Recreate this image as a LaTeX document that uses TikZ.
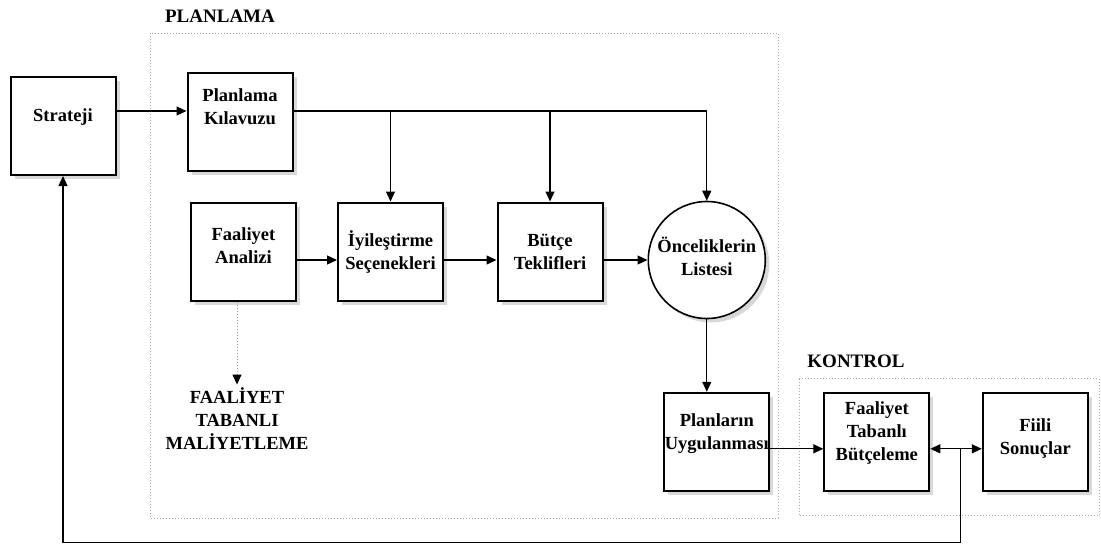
\documentclass[tikz,border=0pt]{standalone}
\usepackage{fontspec}
\setmainfont{Liberation Serif}
\usepackage{tikz}
\usetikzlibrary{positioning,calc,arrows.meta,shadows}

\begin{document}
\begin{tikzpicture}[
    x=1pt, y=1pt,
    font=\bfseries\fontsize{18.5}{23}\selectfont,
    box/.style={rectangle, draw=black, line width=2pt, fill=white, minimum width=105pt, minimum height=98pt, inner sep=0pt, align=center, drop shadow={shadow xshift=4pt, shadow yshift=-4pt, fill=gray!60, opacity=0.5}},
    listnode/.style={circle, draw=black, line width=1.6pt, fill=white, minimum size=117pt, inner sep=0pt, align=center, drop shadow={shadow xshift=4pt, shadow yshift=-4pt, fill=gray!60, opacity=0.5}},
    frame/.style={draw=gray!70, dotted, line width=1pt},
    title/.style={font=\bfseries\fontsize{19}{23}\selectfont},
    arrow/.style={-{Triangle[length=10pt, width=9pt]}, line width=1.2pt},
    dblarrow/.style={{Triangle[length=10pt, width=9pt]}-{Triangle[length=10pt, width=9pt]}, line width=1.2pt},
    dasharrow/.style={-{Triangle[length=10pt, width=9pt, color=black]}, line width=1pt, dotted, draw=gray!80}
]
\useasboundingbox (0,0) rectangle (1101,-547);

% Titles and frames
\node[title] (planlamaT) at (220,-16) {PLANLAMA};
\node[title] (kontrolT) at (856,-361) {KONTROL};
\draw[frame] (150,-33) rectangle (778,-518);
\draw[frame] (799,-378.5) rectangle (1099,-515.5);

% Planning boxes
\node[box, text depth=22pt] (strateji) at (63,-126) {Strateji};
\node[box, right=70pt of strateji, yshift=4pt, text depth=31pt] (kilavuz) {Planlama\\Kılavuzu};
\node[box, below=29.5pt of kilavuz, xshift=3.5pt, text depth=12pt] (analiz) {Faaliyet\\Analizi};
\node[box, right=40pt of analiz] (iyilestirme) {İyileştirme\\Seçenekleri};
\node[box, right=52.5pt of iyilestirme] (butce) {Bütçe\\Teklifleri};
\node[listnode, right=44pt of butce, yshift=-8.5pt, text depth=8pt] (oncelik) {Önceliklerin\\Listesi};
\node[box, below=72.5pt of oncelik, xshift=10pt, text depth=20pt] (uygulama) {Planların\\Uygulanması};
\node[align=center] (maliyet) at (237,-419) {FAALİYET\\TABANLI\\MALİYETLEME};

% Control boxes
\node[box, right=53pt of uygulama, text depth=22pt] (butceleme) {Faaliyet\\Tabanlı\\Bütçeleme};
\node[box, right=51.5pt of butceleme, text depth=10pt] (sonuc) {Fiili\\Sonuçlar};

% Guide line
\coordinate (kil) at ([yshift=11pt]kilavuz.east);
\draw[arrow] (strateji.east |- kil) -- (kilavuz.west |- kil);
\draw[arrow] (kil) -| (oncelik.north);
\draw[arrow] (kil -| iyilestirme.north) -- (iyilestirme.north);
\draw[arrow] (kil -| butce.north) -- (butce.north);

% Main flow
\draw[arrow] (analiz.east |- oncelik) -- (iyilestirme.west |- oncelik);
\draw[arrow] (iyilestirme.east |- oncelik) -- (butce.west |- oncelik);
\draw[arrow] (butce.east |- oncelik) -- (oncelik.west);
\draw[arrow] (oncelik.south) -- (oncelik.south |- uygulama.north);
\draw[dasharrow] (maliyet.north |- analiz.south) -- (maliyet.north);
\draw[arrow] ([yshift=-7pt]uygulama.east) -- ([yshift=-7pt]uygulama.east -| butceleme.west);
\draw[dblarrow] ([yshift=-7pt]butceleme.east) -- ([yshift=-7pt]butceleme.east -| sonuc.west);

% Feedback
\draw[arrow] ([xshift=30pt, yshift=-7pt]butceleme.east) -- ++(0,-94) -| (strateji.south);

\end{tikzpicture}
\end{document}
